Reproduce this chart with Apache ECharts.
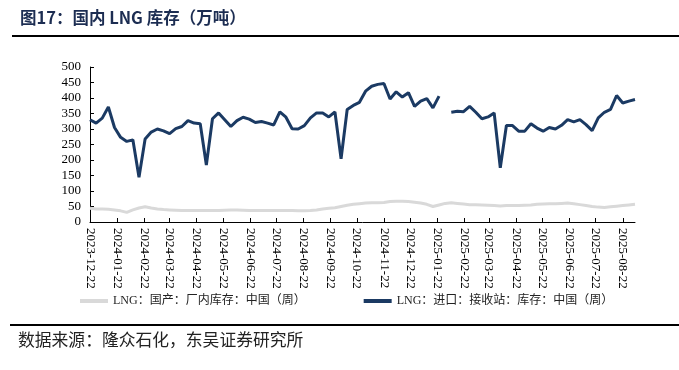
<!DOCTYPE html>
<html>
<head>
<meta charset="utf-8">
<script src="https://cdn.jsdelivr.net/npm/echarts@6/dist/echarts.min.js"></script>
<style>
html,body{margin:0;padding:0;background:#fff;}
#chart{width:679px;height:370px;}
</style>
</head>
<body>
<div id="chart"></div>
<script>
// Weekly observation start/end (weekly, every 7 days)
const startDate = '2023-12-22';
const endDate = '2025-09-05';

// Tick labels shown on the x axis
const tickLabels = ['2023-12-22','2024-01-22','2024-02-22','2024-03-22','2024-04-22','2024-05-22','2024-06-22','2024-07-22','2024-08-22','2024-09-22','2024-10-22','2024-11-22','2024-12-22','2025-01-22','2025-02-22','2025-03-22','2025-04-22','2025-05-22','2025-06-22','2025-07-22','2025-08-22'];

const seriesNames = ['LNG：国产：厂内库存：中国（周）', 'LNG：进口：接收站：库存：中国（周）'];

// LNG domestic factory inventory (weekly, 万吨)
const domesticValues = [44,42,42,41,39,36,31,39,45,49,45,42,40,39,38,37,37,37,37,37,37,37,38,39,39,38,37,37,37,37,37,37,37,37,36,36,37,39,42,44,46,50,54,57,59,61,62,62,63,66,67,67,66,64,61,57,50,55,60,62,60,58,56,56,55,54,53,52,53,53,53,54,55,57,58,59,59,60,61,59,56,53,50,48,47,49,51,53,55,57];

// LNG import terminal inventory (weekly, 万吨); null = missing week
const importValues = [330,319,335,371,305,273,260,265,144,268,290,300,294,285,301,308,327,319,317,184,333,352,330,308,327,338,332,321,324,319,313,355,338,301,300,311,336,352,352,339,355,204,363,376,386,422,438,444,447,397,420,403,417,373,390,398,368,406,null,354,357,356,373,354,333,339,352,175,311,311,293,293,317,303,293,305,300,312,330,323,330,314,295,336,354,363,408,384,390,395];

function fmt(ms){ const d=new Date(ms); const p=n=>String(n).padStart(2,'0'); return d.getUTCFullYear()+'-'+p(d.getUTCMonth()+1)+'-'+p(d.getUTCDate()); }
function parse(s){ const [y,m,d]=s.split('-').map(Number); return Date.UTC(y,m-1,d); }
const DAY = 86400000;
const dayCats = [];
for (let t = parse(startDate); t <= parse(endDate); t += DAY) dayCats.push(fmt(t));
const weekDates = dayCats.filter((d,i)=> i % 7 === 0);

const serif = "'Liberation Serif','Times New Roman',serif";
const cjk = "'Liberation Serif','Noto Sans CJK SC',sans-serif";
const isTick = (idx, val) => tickLabels.indexOf(val) >= 0;

const chart = echarts.init(document.getElementById('chart'));
chart.setOption({
  animation: false,
  backgroundColor: '#fff',
  grid: { left: 90, right: 44, top: 67, bottom: 148, containLabel: false },
  legend: {
    left: 80, top: 295, padding: 0, itemGap: 58, itemWidth: 28, itemHeight: 4,
    icon: 'rect',
    textStyle: { fontFamily: cjk, fontSize: 12, color: '#222' },
    data: seriesNames
  },
  xAxis: {
    type: 'category', data: dayCats, boundaryGap: false,
    axisLine: { lineStyle: { color: '#000', width: 1 } },
    axisTick: { show: true, inside: true, length: 4, interval: isTick, lineStyle: { color: '#000' } },
    axisLabel: { interval: isTick, rotate: -90, margin: 6, fontFamily: serif, fontSize: 13, color: '#000' },
    splitLine: { show: false }
  },
  yAxis: {
    type: 'value', min: 0, max: 500, interval: 50,
    axisLine: { show: true, lineStyle: { color: '#000', width: 1 } },
    axisTick: { show: true, inside: true, length: 4, lineStyle: { color: '#000' } },
    axisLabel: { fontFamily: serif, fontSize: 13, color: '#000', margin: 9 },
    splitLine: { show: false }
  },
  series: [
    {
      name: seriesNames[0], type: 'line', showSymbol: false, symbol: 'none',
      data: weekDates.map((d,i)=>[d, domesticValues[i]]),
      lineStyle: { color: '#d9d9d9', width: 3 }, itemStyle: { color: '#d9d9d9' }
    },
    {
      name: seriesNames[1], type: 'line', showSymbol: false, symbol: 'none', connectNulls: false,
      data: weekDates.map((d,i)=>[d, importValues[i]]),
      lineStyle: { color: '#1b3a63', width: 3 }, itemStyle: { color: '#1b3a63' }
    }
  ],
  graphic: [
    { type: 'text', left: 20, top: 9, style: { text: '图17：国内 LNG 库存（万吨）', fontFamily: "'Noto Sans CJK SC',sans-serif", fontSize: 16.5, fontWeight: 'bold', fill: '#1c2d52' } },
    { type: 'line', shape: { x1: 12, y1: 36, x2: 679, y2: 36 }, style: { stroke: '#000', lineWidth: 2 } },
    { type: 'line', shape: { x1: 10, y1: 325, x2: 679, y2: 325 }, style: { stroke: '#000', lineWidth: 2 } },
    { type: 'text', left: 18, top: 331, style: { text: '数据来源：隆众石化，东吴证券研究所', fontFamily: "'Noto Sans CJK SC',sans-serif", fontSize: 16.8, fill: '#222' } }
  ]
});
</script>
</body>
</html>
